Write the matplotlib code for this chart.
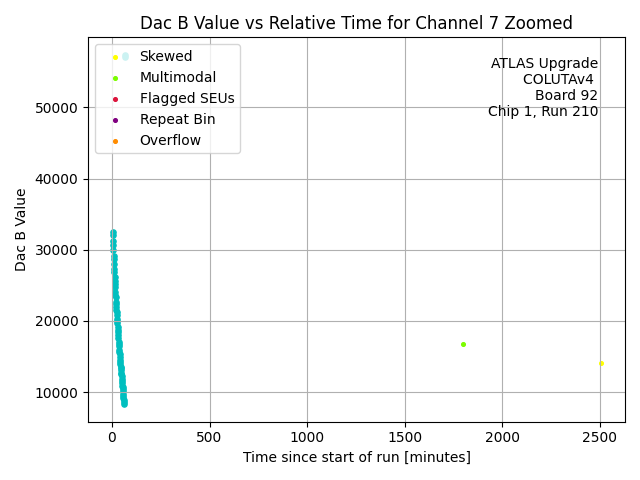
import matplotlib
matplotlib.use('Agg')
import matplotlib.pyplot as plt


# regular readings (cyan)
tiempo = [
    3, 4, 5, 6, 7, 8, 9, 10, 11, 12, 13, 14, 15, 16, 17, 18, 19, 20,
    21, 22, 23, 24, 25, 26, 27, 28, 29, 30, 31, 32, 33, 34, 35, 36, 37,
    38, 39, 40, 41, 42, 43, 44, 45, 46, 47, 48, 49, 50, 51, 52, 53, 54,
    55, 56, 57, 58, 59, 60, 61, 62, 66, 66
]
dac_b = [
    32500, 32100, 31300, 30700, 30000, 29200, 28700, 28000, 27300, 26900,
    26200, 25600, 25200, 24800, 24100, 23700, 23300, 22700, 22400, 22000,
    21500, 21200, 20800, 20300, 20000, 19700, 19200, 18700, 18400, 18100,
    17600, 17100, 16800, 16500, 15900, 15600, 15300, 14900, 14500, 14300,
    14000, 13600, 13400, 13100, 12700, 12500, 12200, 11800, 11600, 11300,
    10900, 10700, 10400, 10100, 9800, 9400, 9200, 8900, 8600, 8300,
    57100, 57400
]

# flagged readings
skewed_t = [2505]
skewed_v = [14100]
multimodal_t = [1800]
multimodal_v = [16800]
seu_t = []
seu_v = []
repeat_t = []
repeat_v = []
overflow_t = []
overflow_v = []

info = "ATLAS Upgrade\nCOLUTAv4 \nBoard 92\nChip 1, Run 210"

fig, ax = plt.subplots(figsize=(6.4, 4.8))
ax.scatter(tiempo, dac_b, s=14, color='c')
ax.scatter(skewed_t, skewed_v, s=7, color='yellow', label='Skewed')
ax.scatter(multimodal_t, multimodal_v, s=7, color='lawngreen', label='Multimodal')
ax.scatter(seu_t, seu_v, s=7, color='crimson', label='Flagged SEUs')
ax.scatter(repeat_t, repeat_v, s=7, color='purple', label='Repeat Bin')
ax.scatter(overflow_t, overflow_v, s=7, color='darkorange', label='Overflow')
ax.text(0.95, 0.95, info, transform=ax.transAxes, ha='right', va='top')
ax.legend(loc='upper left')
ax.set_xlabel('Time since start of run [minutes]')
ax.set_ylabel('Dac B Value')
ax.set_title('Dac B Value vs Relative Time for Channel 7 Zoomed')
ax.grid(True)
plt.tight_layout()
plt.savefig('out.png', dpi=100)
